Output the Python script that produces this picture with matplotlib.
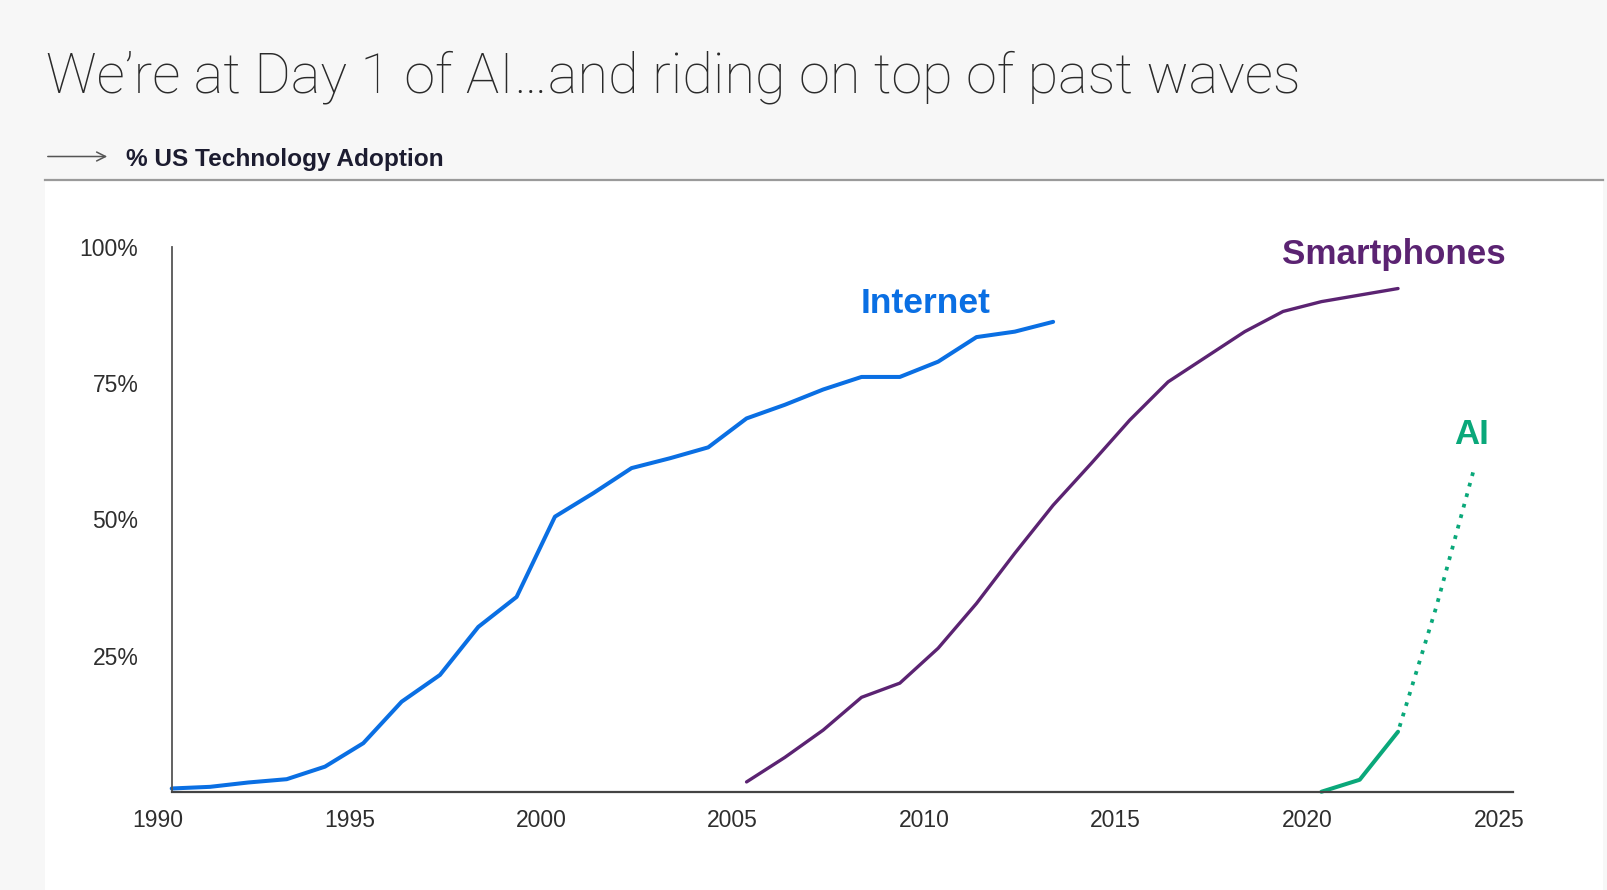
import matplotlib
matplotlib.use("Agg")
import matplotlib.pyplot as plt
from matplotlib.patches import Rectangle, FancyArrowPatch
from matplotlib.lines import Line2D
import matplotlib.transforms as mtransforms

# ---------------- data ----------------
internet_years = list(range(1990, 2014))
internet_values = [0.7, 1.0, 1.8, 2.4, 4.7, 9.0, 16.6, 21.5, 30.3, 35.8, 50.5, 54.8,
                   59.4, 61.2, 63.2, 68.5, 71.0, 73.8, 76.1, 76.1, 78.9, 83.4, 84.4, 86.2]

smartphone_years = list(range(2005, 2023))
smartphone_values = [1.9, 6.4, 11.4, 17.4, 20.0, 26.4, 34.6, 43.8, 52.6, 60.3, 68.2,
                     75.2, 79.8, 84.4, 88.1, 89.9, 91.1, 92.3]

ai_years = [2020, 2021, 2022]
ai_values = [0.1, 2.3, 11.1]
ai_proj_years = [2022, 2023, 2024]
ai_proj_values = [11.1, 34.0, 59.7]

x_ticks = [1990, 1995, 2000, 2005, 2010, 2015, 2020, 2025]
y_ticks = [25, 50, 75, 100]
y_tick_labels = ["25%", "50%", "75%", "100%"]

title = "We\u2019re at Day 1 of AI\u2026and riding on top of past waves"
subtitle = "% US Technology Adoption"

# ---------------- style ----------------
W, H = 1608, 890
C_INTERNET = "#0a6fe3"
C_SMART = "#5b2372"
C_AI = "#0aa87a"
FONT = "Liberation Sans"

fig = plt.figure(figsize=(W / 100, H / 100), dpi=100)
fig.patch.set_facecolor("#f7f7f7")

# white panel
fig.add_artist(Rectangle((45 / W, 0), (1603 - 45) / W, (890 - 180) / H,
                         transform=fig.transFigure, facecolor="white",
                         edgecolor="none", zorder=0))
# separator line
fig.add_artist(Line2D([45 / W, 1603 / W], [1 - 179.5 / H, 1 - 179.5 / H],
                      transform=fig.transFigure, color="#9a9a9a", lw=1.6))
# small arrow
fig.add_artist(FancyArrowPatch((45 / W, 1 - 156.5 / H), (110 / W, 1 - 156.5 / H),
                               transform=fig.transFigure, arrowstyle="->",
                               mutation_scale=16, color="#555555", lw=1.1))

# title
t = fig.text(46 / W, 1 - 92 / H, title, fontsize=42, family=["Roboto", "DejaVu Sans"],
             fontweight="light", color="#2a2a2a", ha="left", va="baseline")
fig.canvas.draw()
w = t.get_window_extent().width
t.set_fontsize(42 * 1258 / w)

fig.text(126 / W, 1 - 166 / H, subtitle, fontsize=17.6, family=FONT,
         fontweight="bold", color="#1c1c30", ha="left", va="baseline")

# ---------------- axes ----------------
left, right = 171.7 / W, 1513 / W
bottom, top = 1 - 792.3 / H, 1 - 246.5 / H
ax = fig.add_axes([left, bottom, right - left, top - bottom])
ax.set_facecolor("none")
ax.set_xlim(1990, 2025)
ax.set_ylim(0, 100)

for s in ("top", "right"):
    ax.spines[s].set_visible(False)
ax.spines["left"].set_color("#555555")
ax.spines["left"].set_linewidth(1.3)
ax.spines["bottom"].set_color("#444444")
ax.spines["bottom"].set_linewidth(1.6)

ax.set_xticks(x_ticks)
ax.set_xticklabels([str(x) for x in x_ticks])
ax.set_yticks(y_ticks)
ax.set_yticklabels(y_tick_labels)
ax.tick_params(axis="both", length=0, labelsize=16.5, labelcolor="#2e2e2e")
ax.tick_params(axis="x", pad=12)
ax.tick_params(axis="y", pad=24)
for lab in ax.get_xticklabels() + ax.get_yticklabels():
    lab.set_fontfamily(FONT)
offset = mtransforms.ScaledTranslation(-14 / 100, 0, fig.dpi_scale_trans)
for lab in ax.get_xticklabels():
    lab.set_transform(lab.get_transform() + offset)

ax.plot(internet_years, internet_values, color=C_INTERNET, lw=2.9,
        solid_joinstyle="round", solid_capstyle="round", clip_on=False)
ax.plot(smartphone_years, smartphone_values, color=C_SMART, lw=2.4,
        solid_joinstyle="round", solid_capstyle="round", clip_on=False)
ax.plot(ai_years, ai_values, color=C_AI, lw=2.9,
        solid_joinstyle="round", solid_capstyle="round", clip_on=False)
ax.plot(ai_proj_years, ai_proj_values, color=C_AI, lw=2.7,
        linestyle=(1.5, (1, 1.9)), dash_capstyle="butt", clip_on=False)

# series labels
ax.text(2009.66, 87.9, "Internet", color=C_INTERNET, fontsize=25.5, family=FONT,
        fontweight="bold", ha="center", va="baseline")
ax.text(2021.9, 96.8, "Smartphones", color=C_SMART, fontsize=25.2, family=FONT,
        fontweight="bold", ha="center", va="baseline", clip_on=False)
ax.text(2023.93, 63.9, "AI", color=C_AI, fontsize=25, family=FONT,
        fontweight="bold", ha="center", va="baseline")

fig.savefig("out.png", dpi=100, facecolor=fig.get_facecolor())
